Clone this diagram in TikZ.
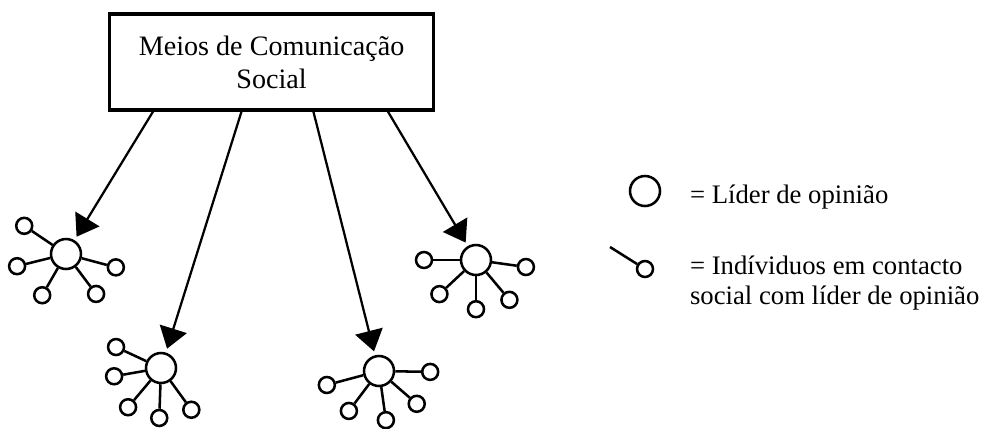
\documentclass[tikz,border=0pt]{standalone}
\usepackage{fontspec}
\setmainfont{Liberation Serif}
\usetikzlibrary{arrows.meta}
\begin{document}
\begin{tikzpicture}[line width=1.8pt,
	caixa/.style={draw, line width=2.2pt, minimum width=8.1cm, minimum height=2.4cm,
		align=center, font=\fontsize{20}{23.5}\selectfont},
	lider/.style={draw, circle, minimum size=0.75cm, inner sep=0pt},
	contacto/.style={draw, circle, minimum size=0.4cm, inner sep=0pt},
	seta/.style={line width=1.6pt, -{Triangle[length=0.52cm,width=0.7cm]}, shorten >=0.1cm},
	legenda/.style={anchor=base west, align=left, inner sep=0pt,
		font=\fontsize{19}{21.3}\selectfont}]
	\useasboundingbox (0,0) rectangle (24.625,-10.7);

	\node[caixa] (media) at (6.79,-1.55) {Meios de Comunicação\\Social};

	% lideres de opiniao
	\node[lider] (l1) at (1.65,-6.35) {};
	\node[lider] (l2) at (4.025,-9.2) {};
	\node[lider] (l3) at (9.475,-9.275) {};
	\node[lider] (l4) at (11.9,-6.5) {};

	% individuos em contacto
	\foreach \a/\d [count=\i] in {146/1.26, 194/1.26, 240/1.19, 307/1.25, 345/1.29}{
		\node[contacto] (c1\i) at ([shift={(\a:\d)}]l1) {};
		\draw (l1) -- (c1\i);
	}
	\foreach \a/\d [count=\i] in {155/1.24, 190/1.19, 230/1.28, 268/1.25, 306/1.29}{
		\node[contacto] (c2\i) at ([shift={(\a:\d)}]l2) {};
		\draw (l2) -- (c2\i);
	}
	\foreach \a/\d [count=\i] in {359/1.28, 195/1.35, 233/1.25, 278/1.24, 319/1.25}{
		\node[contacto] (c3\i) at ([shift={(\a:\d)}]l3) {};
		\draw (l3) -- (c3\i);
	}
	\foreach \a/\d [count=\i] in {180/1.3, 352/1.26, 223/1.25, 270/1.23, 310/1.3}{
		\node[contacto] (c4\i) at ([shift={(\a:\d)}]l4) {};
		\draw (l4) -- (c4\i);
	}

	% setas
	\coordinate (m1) at (3.85,-2.75);
	\coordinate (m2) at (6.05,-2.75);
	\coordinate (m3) at (7.825,-2.75);
	\coordinate (m4) at (9.675,-2.75);
	\draw[seta] (m1) -- (l1);
	\draw[seta] (m2) -- (l2);
	\draw[seta] (m3) -- (l3);
	\draw[seta] (m4) -- (l4);

	% legenda
	\node[lider] (leg1) at (16.125,-4.775) {};
	\node[legenda] (txt1) at (17.22,-5.075) {= Líder de opinião};
	\node[contacto] (leg2) at (16.125,-6.725) {};
	\coordinate (leg2a) at (15.25,-6.175);
	\draw (leg2a) -- (leg2);
	\node[legenda] (txt2) at (17.22,-7.6) {= Indíviduos em contacto\\social com líder de opinião};
\end{tikzpicture}
\end{document}
